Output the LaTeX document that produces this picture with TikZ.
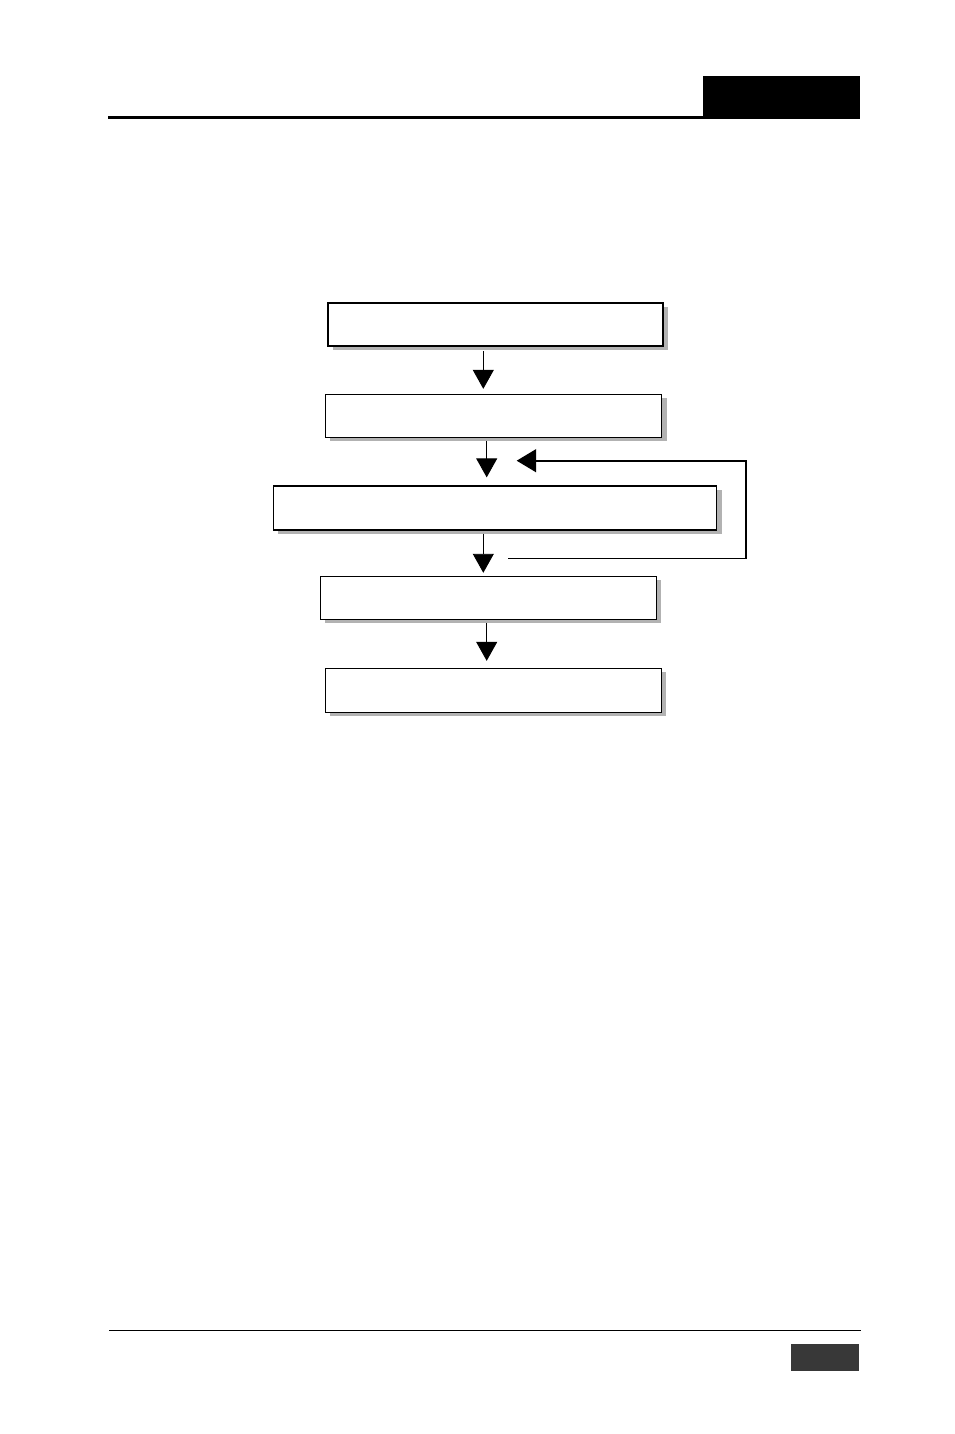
\documentclass[tikz,border=0pt]{standalone}
\usepackage{xcolor}
\usepackage{tikz}
\usetikzlibrary{shadows,arrows.meta}
\usetikzlibrary{shapes,calc,backgrounds}

\definecolor{pagegray}{HTML}{383838}

\begin{document}
\begin{tikzpicture}[x=1pt,y=-1pt,
    stepbox/.style={draw,fill=white,line width=0.9pt,inner sep=0pt,
      minimum height=43pt,
      drop shadow={fill=black!30,opacity=1,shadow xshift=5pt,shadow yshift=-3.5pt}},
    flow/.style={line width=0.9pt,-{Triangle[width=21pt,length=19pt]}},
    loopline/.style={line width=1.8pt}]
  \useasboundingbox (0,0) rectangle (954,1434);
  % page header and footer
  \fill [black] (702.7,75.7) rectangle (860,119);
  \draw [line width=3pt] (108,117.5) -- (702.7,117.5);
  \draw [line width=1.3pt] (109,1330.5) -- (860.7,1330.5);
  \fill [pagegray] (791,1344) rectangle (859,1371);

  % the five steps
  \node (b1) at (495.2,324.7) [stepbox,line width=1.8pt,minimum width=335pt] {};
  \node (b2) at (493.5,415.8) [stepbox,minimum width=336.4pt] {};
  \node (b3) at (495,508) [stepbox,line width=1.3pt,minimum width=443.4pt,minimum height=44pt] {};
  \node (b4) at (488.3,598.3) [stepbox,line width=1.2pt,minimum width=336pt] {};
  \node (b5) at (493,690.5) [stepbox,minimum width=336pt,minimum height=44.4pt] {};

  \draw [flow,shorten <=4pt,shorten >=5pt] (b1.south -| 483.3,0) -- (b2.north -| 483.3,0);
  \draw [flow,shorten <=3pt,shorten >=8pt] (b2.south -| 486.7,0) -- (b3.north -| 486.7,0);
  \draw [flow,shorten <=3pt,shorten >=3.4pt] (b3.south -| 483.3,0) -- (b4.north -| 483.3,0);
  \draw [flow,shorten <=3pt,shorten >=7pt] (b4.south -| 486.7,0) -- (b5.north -| 486.7,0);

  % repeat loop round b3
  \coordinate (loopstart) at (508,558.3);
  \coordinate (loopcorner) at (746,558.3);
  \coordinate (looptip) at (516.7,460.7);
  \draw [line width=1pt] (loopstart) -- ([xshift=0.9pt]loopcorner);
  \draw [loopline,-{Triangle[width=23pt,length=19.5pt]}] (loopcorner) |- (looptip);
\end{tikzpicture}
\end{document}
